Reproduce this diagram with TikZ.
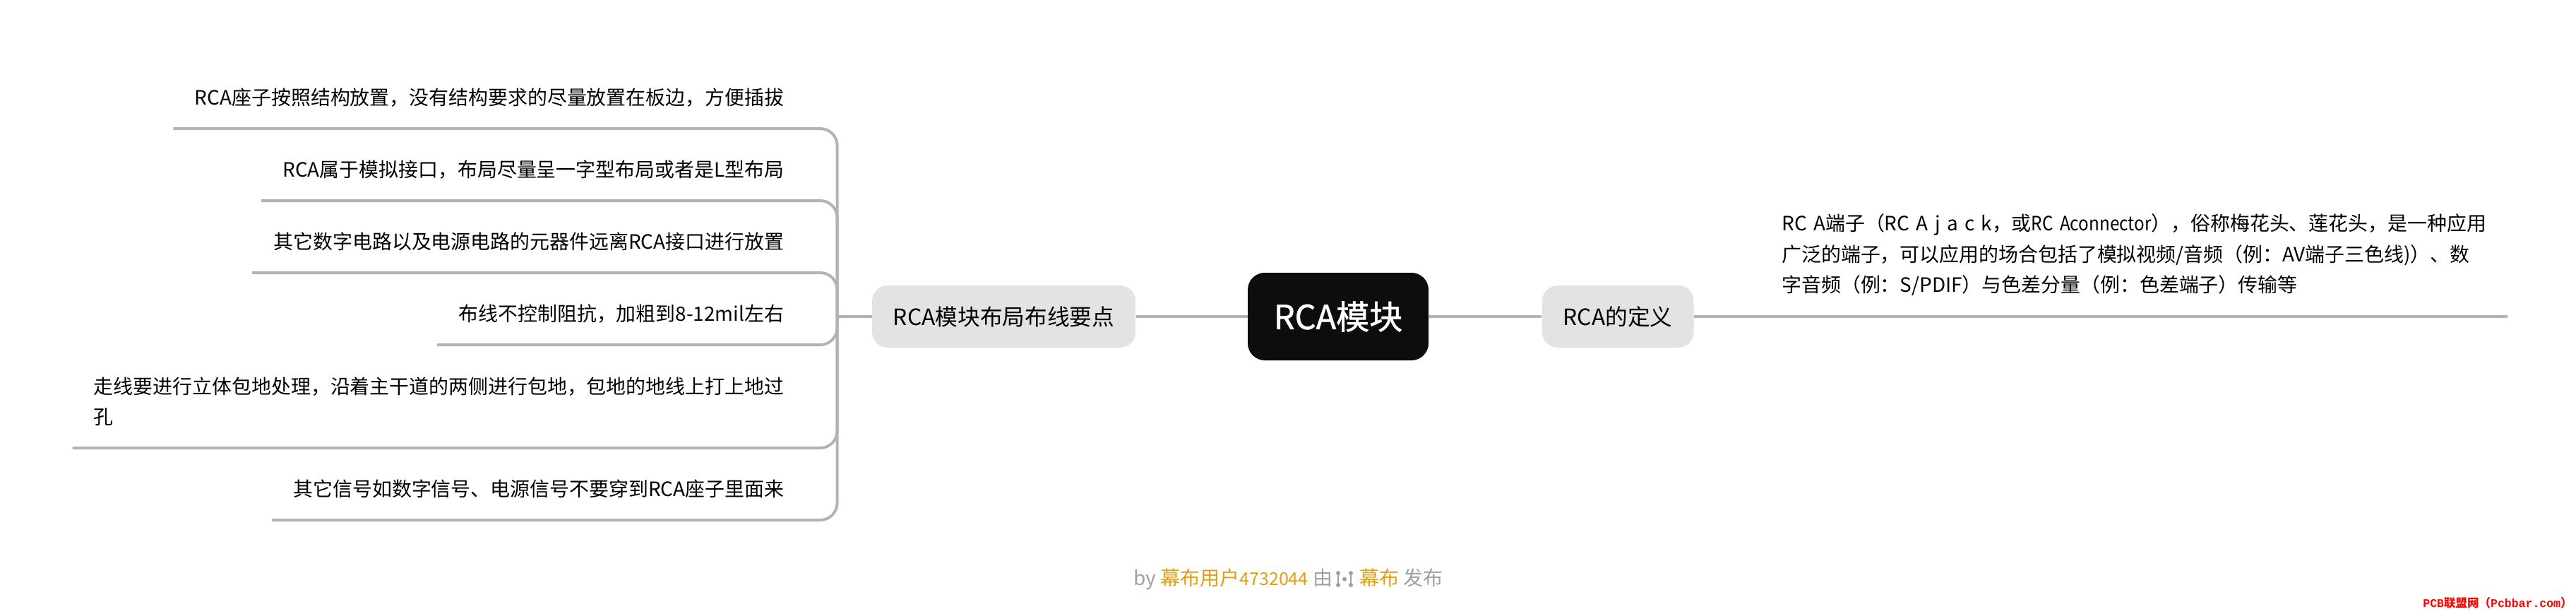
\documentclass[tikz,border=0pt]{standalone}
\usepackage{fontspec}
\setmainfont{Noto Sans CJK SC}
\newfontfamily\rootfont[FakeBold=1.2]{Noto Sans CJK SC}
\newfontfamily\narrowfont[FakeStretch=0.87]{Noto Sans CJK SC}
\newfontfamily\markfont[BoldFont={Liberation Mono Bold}]{Liberation Mono}
\usetikzlibrary{positioning}
\definecolor{linegray}{HTML}{B3B3B3}
\definecolor{chipgray}{HTML}{E3E3E3}
\definecolor{rootblack}{HTML}{0D0D0D}
\definecolor{footgray}{HTML}{9AA0A8}
\definecolor{footgold}{HTML}{DF9F12}
\tikzstyle{link} = [line width=2pt, draw=linegray]
\tikzstyle{rootbox} = [rectangle, rounded corners=12pt, fill=rootblack, text=white, minimum width=128pt, minimum height=62pt, text centered, font=\rootfont\fontsize{23.5}{26}\selectfont]
\tikzstyle{chip} = [rectangle, rounded corners=11pt, fill=chipgray, minimum height=44pt, inner xsep=15pt, text centered, font=\fontsize{15.85}{20}\selectfont]
\tikzstyle{item} = [anchor=south east, rectangle, inner xsep=15pt, inner ysep=0pt, minimum height=43.5pt, align=left, font=\fontsize{13.96}{21.7}\selectfont]

\begin{document}
\begin{tikzpicture}
\useasboundingbox (0,0) rectangle (1824pt,-434pt);
% Placement of the centre and its two branches
\node (root) [rootbox] at (947.5pt,-224pt) {RCA模块};
\node (layout) [chip, left=79pt of root] {RCA模块布局布线要点};
\node (define) [chip, right=80pt of root] {RCA的定义};
\coordinate [left=24.5pt of layout] (trunk);

% Placement of the leaves
\node (itemA) [item] at ([xshift=-22.5pt,yshift=133pt]trunk) {RCA座子按照结构放置，没有结构要求的尽量放置在板边，方便插拔};
\node (itemB) [below=51pt of itemA.south east, item] {RCA属于模拟接口，布局尽量呈一字型布局或者是L型布局};
\node (itemC) [below=51pt of itemB.south east, item] {其它数字电路以及电源电路的元器件远离RCA接口进行放置};
\node (itemD) [below=51pt of itemC.south east, item] {布线不控制阻抗，加粗到8-12mil左右};
\node (itemE) [below=73pt of itemD.south east, item, minimum height=65.5pt] {走线要进行立体包地处理，沿着主干道的两侧进行包地，包地的地线上打上地过\\孔};
\node (itemF) [below=51pt of itemE.south east, item] {其它信号如数字信号、电源信号不要穿到RCA座子里面来};
\node (note) [item, anchor=south west, minimum height=87pt, inner xsep=0pt, text width=513.5pt] at ([xshift=62pt]define.east) {RC A端子（RC A j a c k，或{\narrowfont RC Aconnector}），俗称梅花头、莲花头，是一种应用\\广泛的端子，可以应用的场合包括了模拟视频/音频（例：AV端子三色线)）、数\\字音频（例：S/PDIF）与色差分量（例：色差端子）传输等};

% Drawing of lines
\draw [link] (root) -- (layout);
\draw [link] (root) -- (define);
\draw [link] (define.east) -- (note.south east);
\draw [link] (layout) -- (trunk);
\draw [link, rounded corners=12pt] (itemA.south west) -| (trunk);
\draw [link, rounded corners=12pt] (itemB.south west) -| (trunk);
\draw [link, rounded corners=12pt] (itemC.south west) -| (trunk);
\draw [link, rounded corners=12pt] (itemD.south west) -| (trunk);
\draw [link, rounded corners=12pt] (itemE.south west) -| (trunk);
\draw [link, rounded corners=12pt] (itemF.south west) -| (trunk);

% Footer and its small logo
\node (footer) [text=footgray, font=\fontsize{14}{18}\selectfont, inner sep=0pt] at (912.2pt,-410pt) {by \textcolor{footgold}{幕布用户{\fontsize{12.5}{18}\selectfont 4732044}} 由\hspace{19pt}\textcolor{footgold}{幕布} 发布};
\coordinate (logo) at (952pt,-409.8pt);
\draw [footgray, line width=0.8pt] ([xshift=-4.5pt,yshift=4.2pt]logo) -- ([xshift=-4.5pt,yshift=-4.2pt]logo);
\draw [footgray, line width=0.8pt] ([xshift=4.5pt,yshift=4.2pt]logo) -- ([xshift=4.5pt,yshift=-4.2pt]logo);
\fill [footgray] ([xshift=-4.5pt,yshift=4.2pt]logo) circle (1.5pt);
\fill [footgray] ([xshift=-4.5pt,yshift=-4.2pt]logo) circle (1.5pt);
\fill [footgray] ([xshift=4.5pt,yshift=4.2pt]logo) circle (1.5pt);
\fill [footgray] ([xshift=4.5pt,yshift=-4.2pt]logo) circle (1.5pt);
\fill [footgray] (logo) circle (1.5pt);

% Site mark in the corner
\node (mark) [anchor=east, text=red, inner sep=0pt, font=\fontsize{8.25}{10}\selectfont\bfseries] at (1821.5pt,-426.5pt) {{\markfont PCB}联盟网（{\markfont Pcbbar.com}）};
\end{tikzpicture}
\end{document}
